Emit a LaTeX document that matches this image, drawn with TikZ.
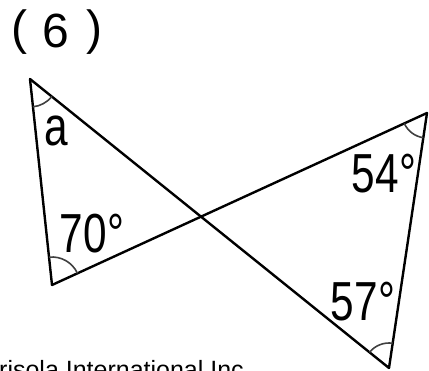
\documentclass[tikz,border=0pt]{standalone}
\usepackage{fontspec}
\setmainfont{Liberation Sans}
\usetikzlibrary{angles}
\begin{document}
\begin{tikzpicture}[x=1pt,y=-1pt,
  edge/.style={line width=2.4pt,line join=round,line cap=round},
  anglearc/.style={draw=black!75,line width=1.6pt},
  lbl/.style={inner sep=0pt,font=\fontsize{55}{55}\selectfont},
  ttl/.style={inner sep=0pt,font=\fontsize{48}{48}\selectfont}]
\useasboundingbox (0,0) rectangle (429,371);
\clip (0,0) rectangle (429,371);
\coordinate (A) at (30,79);
\coordinate (B) at (52,285);
\coordinate (C) at (427,113);
\coordinate (D) at (389,368);
\draw[edge] (A) -- (B);
\draw[edge] (A) -- (D);
\draw[edge] (B) -- (C);
\draw[edge] (C) -- (D);
\pic[anglearc,angle radius=28pt] {angle=B--A--D};
\pic[anglearc,angle radius=28pt] {angle=C--B--A};
\pic[anglearc,angle radius=25pt] {angle=B--C--D};
\pic[anglearc,angle radius=25pt] {angle=C--D--A};
\node[lbl] (la) at (56,131) {\scalebox{0.77}[1]{a}};
\node[lbl] (l70) at (92,234) {\scalebox{0.77}[1]{70°}};
\node[lbl] (l54) at (384,174) {\scalebox{0.77}[1]{54°}};
\node[lbl] (l57) at (363,302) {\scalebox{0.77}[1]{57°}};
\node[ttl] (p1) at (19,32) {(};
\node[ttl] (six) at (56,31) {6};
\node[ttl] (p2) at (94,32) {)};
\node[inner sep=0pt,anchor=base west,font=\fontsize{25}{25}\selectfont] (foot) at (-1,379) {risola International Inc};
\end{tikzpicture}
\end{document}
